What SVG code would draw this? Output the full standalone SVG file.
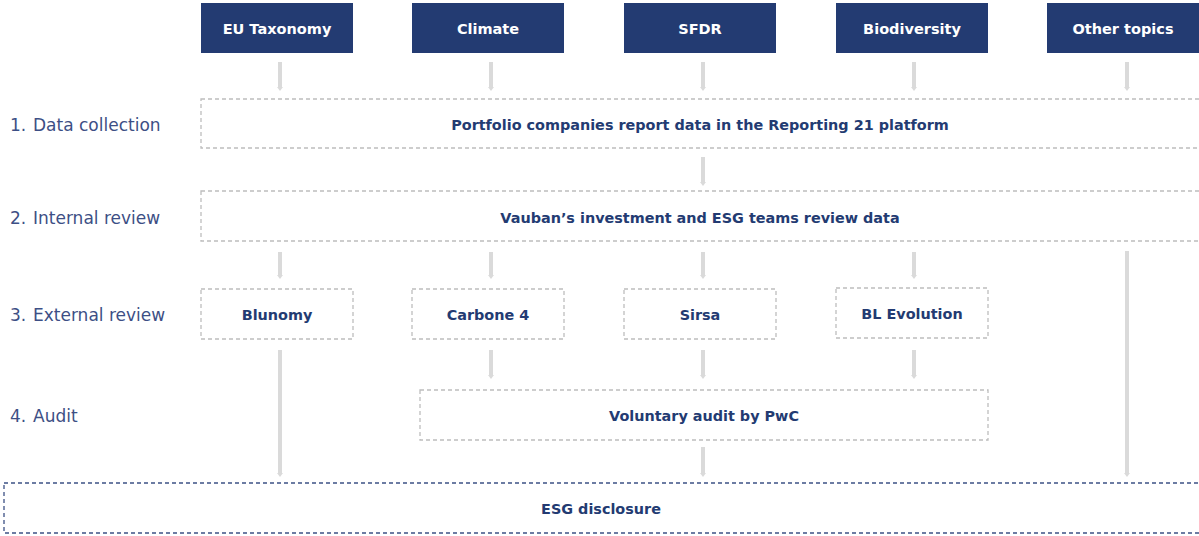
<svg xmlns="http://www.w3.org/2000/svg" width="1199" height="536" viewBox="0 0 1199 536">
  <style>
    .topic rect { fill: #233b72; }
    .topic text { fill: #ffffff; font-family: "DejaVu Sans", "Liberation Sans", sans-serif; font-weight: bold; font-size: 14.5px; text-anchor: middle; }
    .step rect { fill: none; stroke: #bdbdbd; stroke-width: 1.3; stroke-dasharray: 4 3; }
    .step text, .final text { fill: #233b72; font-family: "DejaVu Sans", "Liberation Sans", sans-serif; font-weight: bold; font-size: 14.4px; text-anchor: middle; }
    .final rect { fill: none; stroke: #3d5185; stroke-width: 1.3; stroke-dasharray: 4 3; }
    .label { fill: #3d4f85; font-family: "DejaVu Sans", "Liberation Sans", sans-serif; font-size: 17px; }
    .flow line { stroke: #dadada; stroke-width: 4; marker-end: url(#tip); }
  </style>
  <defs>
    <marker id="tip" markerUnits="userSpaceOnUse" markerWidth="4" markerHeight="6" refX="0" refY="3" orient="auto">
      <path d="M0,0 L4,3 L0,6 Z" fill="#dadada"/>
    </marker>
  </defs>

  <rect width="1199" height="536" fill="#ffffff"/>

  <!-- stage labels -->
  <g id="stage-labels" class="label">
    <text x="10" y="131">1.</text><text x="33" y="131">Data collection</text>
    <text x="10" y="224">2.</text><text x="33" y="224">Internal review</text>
    <text x="10" y="321">3.</text><text x="33" y="321">External review</text>
    <text x="10" y="422">4.</text><text x="33" y="422">Audit</text>
  </g>

  <!-- topic headers -->
  <g id="topic-eu-taxonomy" class="topic"><rect x="201" y="3" width="152" height="50"/><text x="277" y="34">EU Taxonomy</text></g>
  <g id="topic-climate" class="topic"><rect x="412" y="3" width="152" height="50"/><text x="488" y="34">Climate</text></g>
  <g id="topic-sfdr" class="topic"><rect x="624" y="3" width="152" height="50"/><text x="700" y="34">SFDR</text></g>
  <g id="topic-biodiversity" class="topic"><rect x="836" y="3" width="152" height="50"/><text x="912" y="34">Biodiversity</text></g>
  <g id="topic-other" class="topic"><rect x="1047" y="3" width="154" height="50"/><text x="1123" y="34">Other topics</text></g>

  <!-- process steps -->
  <g id="step-data-collection" class="step"><rect x="201" y="99" width="1002" height="49"/><text x="700" y="130">Portfolio companies report data in the Reporting 21 platform</text></g>
  <g id="step-internal-review" class="step"><rect x="201" y="191" width="1002" height="50"/><text x="700" y="223">Vauban’s investment and ESG teams review data</text></g>
  <g id="step-blunomy" class="step"><rect x="201" y="289" width="152" height="50"/><text x="277" y="320">Blunomy</text></g>
  <g id="step-carbone4" class="step"><rect x="412" y="289" width="152" height="50"/><text x="488" y="320">Carbone 4</text></g>
  <g id="step-sirsa" class="step"><rect x="624" y="289" width="152" height="50"/><text x="700" y="320">Sirsa</text></g>
  <g id="step-bl-evolution" class="step"><rect x="836" y="288" width="152" height="50"/><text x="912" y="319">BL Evolution</text></g>
  <g id="step-audit" class="step"><rect x="420" y="390" width="568" height="50"/><text x="704" y="421">Voluntary audit by PwC</text></g>
  <g id="step-disclosure" class="final"><rect x="4" y="483" width="1199" height="50"/><text x="601" y="514">ESG disclosure</text></g>

  <!-- connectors -->
  <g id="connectors" class="flow">
    <line x1="280" y1="62" x2="280" y2="87"/>
    <line x1="491" y1="62" x2="491" y2="87"/>
    <line x1="703" y1="62" x2="703" y2="87"/>
    <line x1="914" y1="62" x2="914" y2="87"/>
    <line x1="1127" y1="62" x2="1127" y2="87"/>

    <line x1="703" y1="157" x2="703" y2="182"/>

    <line x1="280" y1="252" x2="280" y2="275"/>
    <line x1="491" y1="252" x2="491" y2="275"/>
    <line x1="703" y1="252" x2="703" y2="275"/>
    <line x1="914" y1="252" x2="914" y2="275"/>
    <line x1="1127" y1="251" x2="1127" y2="473"/>

    <line x1="280" y1="350" x2="280" y2="473"/>
    <line x1="491" y1="350" x2="491" y2="375"/>
    <line x1="703" y1="350" x2="703" y2="375"/>
    <line x1="914" y1="350" x2="914" y2="375"/>

    <line x1="703" y1="447" x2="703" y2="473"/>
  </g>
</svg>
